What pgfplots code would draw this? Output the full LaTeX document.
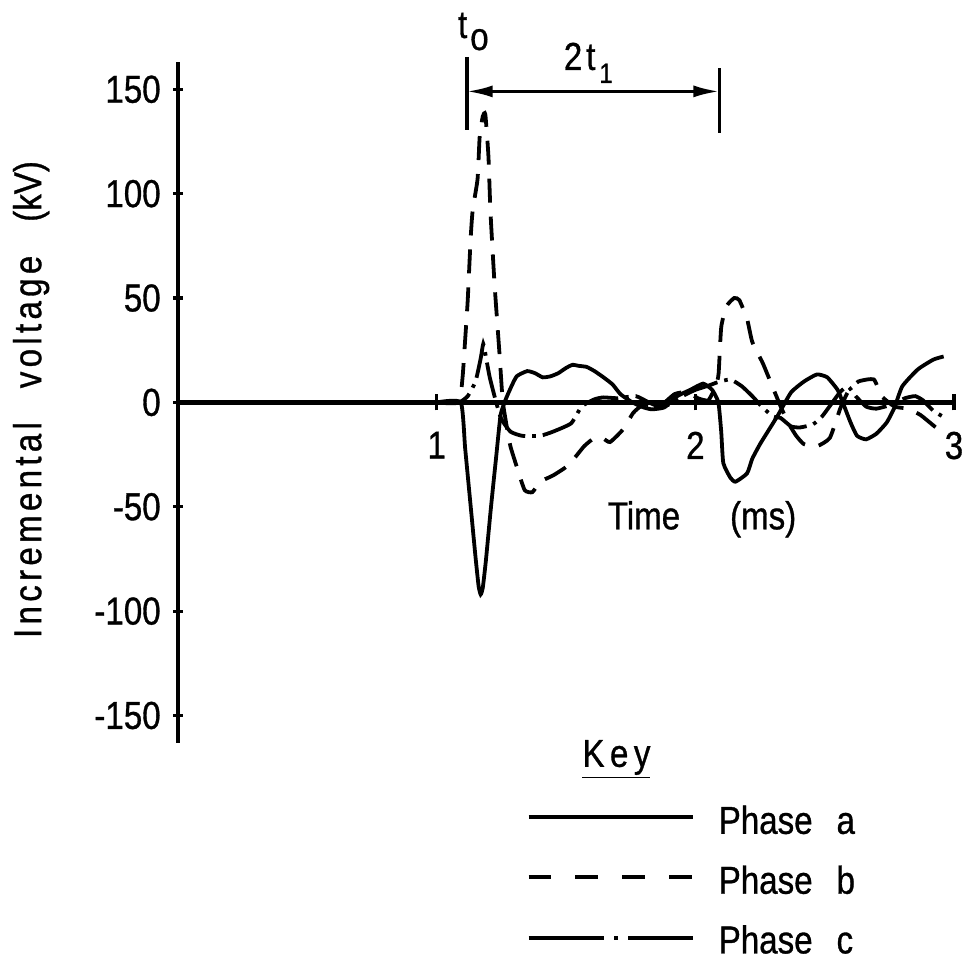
\documentclass[border=0pt]{standalone}
\usepackage{fontspec}
\setmainfont{Liberation Sans}[FakeStretch=0.85,FakeBold=0.8]
\usepackage{pgfplots}
\pgfplotsset{compat=1.18}
\usetikzlibrary{arrows.meta}
\begin{document}
\fontsize{19.5}{23}\selectfont
\begin{tikzpicture}
\begin{axis}[
 x=129.5pt, y=1.045pt,
 xmin=0, xmax=3.0, ymin=-163, ymax=163,
 enlargelimits=false,
 axis x line=middle, axis y line=left,
 axis line style={line width=2.2pt,-},
 hide obscured x ticks=false, hide obscured y ticks=false,
 xtick={1,2,3}, xticklabels={1,2,3},
 ytick={-150,-100,-50,0,50,100,150},
 yticklabels={-150,-100,-50,0,50,100,150},
 minor tick num=0,
 tick align=center,
 major tick length=5pt,
 xtick style={line width=1.6pt,black,/pgfplots/major tick length=8pt},
 ytick style={line width=1.6pt,black},
 xticklabel style={inner sep=0pt, anchor=north, yshift=-12pt},
 yticklabel style={inner sep=0pt, anchor=east, xshift=-6pt},
 clip=false,
]
% Phase a (solid)
\addplot[black, line width=1.9pt, smooth, tension=0.3] coordinates {
(1.0,0)(1.093,0)(1.11,-22)(1.13,-48)(1.15,-74)(1.162,-88)(1.17,-92)(1.178,-89)(1.19,-76)(1.21,-50)(1.23,-26)(1.247,-6)(1.267,1.5)(1.29,8)(1.31,12.6)(1.35,15)(1.38,14)(1.41,12)(1.44,12.5)(1.47,14)(1.50,16.5)(1.525,18)(1.55,17.5)(1.58,17)(1.61,15)(1.645,12)(1.68,8.6)(1.71,4)(1.75,0.5)(1.79,-2)(1.83,-3.3)(1.88,-2.4)(1.93,3)(1.98,6)(2.03,9)(2.065,6)(2.089,0)(2.10,-14)(2.108,-29)(2.135,-36)(2.155,-38)(2.20,-34)(2.22,-27)(2.25,-20)(2.28,-14)(2.32,-6)(2.37,4.8)(2.42,10)(2.47,13.4)(2.51,12)(2.55,6)(2.57,0)(2.60,-9.6)(2.625,-16)(2.66,-17.7)(2.70,-15)(2.74,-9.6)(2.77,-2.4)(2.80,7.7)(2.86,15.8)(2.92,20.5)(2.96,22)
};
% Phase b (dashed)
\addplot[black, line width=1.9pt, dash pattern=on 12pt off 7pt, smooth, tension=0.3] coordinates {
(1.0,0)(1.085,0)(1.10,12)(1.11,30)(1.12,49)(1.131,78)(1.139,92)(1.158,107)(1.166,127)(1.178,137)(1.188,138)(1.20,118)(1.208,91)(1.224,56)(1.243,23)(1.255,1)(1.27,-11)(1.285,-21)(1.31,-31)(1.34,-42)(1.37,-43)(1.40,-38)(1.45,-35)(1.51,-30)(1.57,-21)(1.61,-17)(1.64,-17)(1.67,-19)(1.72,-13)(1.76,-5)(1.80,-1)(1.86,-2)(1.92,4)(1.97,5)(2.01,2)(2.05,1)(2.08,8)(2.09,14)(2.10,36)(2.12,46)(2.15,50)(2.17,49)(2.20,40)(2.22,29)(2.26,19)(2.29,10)(2.33,-2)(2.36,-10)(2.39,-16)(2.42,-20)(2.47,-21)(2.52,-17)(2.56,-3)(2.59,5)(2.63,10)(2.69,11)(2.72,3)(2.77,-2)(2.82,-3)(2.87,-6)(2.93,-12)(2.96,-14)
};
% Phase c (long dash dot)
\addplot[black, line width=1.9pt, dash pattern=on 18pt off 3.5pt on 1.8pt off 3.5pt, smooth, tension=0.3] coordinates {
(1.0,0)(1.085,0)(1.12,3)(1.15,10)(1.17,21)(1.18,28)(1.19,22)(1.205,12)(1.23,0)(1.25,-8)(1.285,-14)(1.33,-16)(1.40,-16)(1.45,-14)(1.52,-10)(1.56,-2)(1.61,1.5)(1.645,2.4)(1.70,2)(1.77,3)(1.82,0)(1.86,-2)(1.90,-1)(1.95,3)(2.00,6)(2.05,8)(2.085,9.6)(2.135,11)(2.18,7.7)(2.22,3)(2.26,-2.4)(2.30,-6.7)(2.33,-7.5)(2.37,-11.5)(2.405,-12)(2.455,-10.5)(2.49,-6.7)(2.53,0)(2.56,5)(2.59,7.7)(2.62,3)(2.66,-2)(2.70,-3)(2.76,-1)(2.81,2)(2.85,3)(2.88,1)(2.92,-4)(2.96,-7)
};
% frame of the picture
\path (axis cs:-0.6834,192.8) rectangle (axis cs:3.058,-269.4);
% axis labels
\node[rotate=90, anchor=center] at (axis cs:-0.568,1.4)
 {{\addfontfeature{LetterSpace=11}Incremental}\hspace{17pt}{\addfontfeature{LetterSpace=11}voltage}\hspace{17pt}(kV)};
\node[anchor=base west, inner sep=0pt] at (axis cs:1.66,-60.8) {Time\hspace{25pt}(ms)};
% t0 and 2t1 annotation
\draw[line width=1.8pt] (axis cs:1.116,165.5) -- (axis cs:1.116,130.6);
\draw[line width=1.8pt] (axis cs:2.093,160) -- (axis cs:2.093,129);
\draw[line width=1.6pt, {Latex[length=13pt,width=6pt]}-{Latex[length=13pt,width=6pt]}] (axis cs:1.116,149) -- (axis cs:2.093,149);
\node[anchor=base west, inner sep=0pt] at (axis cs:1.081,174.6) {t\kern1.5pt\raisebox{-6pt}{o}};
\node[anchor=base west, inner sep=0pt] at (axis cs:1.49,159.3) {2\kern2pt t\kern2pt\raisebox{-6.5pt}{\fontsize{14}{14}\selectfont 1}};
% key
\node[anchor=base, inner sep=0pt] at (axis cs:1.695,-174.6) {$\underline{\hbox{\addfontfeature{LetterSpace=14}Key}}$};
\draw[line width=1.9pt] (axis cs:1.355,-198.6) -- (axis cs:1.992,-198.6);
\node[anchor=base west, inner sep=0pt] at (axis cs:2.089,-206.7) {Phase\hspace{12pt}a};
\draw[line width=1.9pt, dash pattern=on 11.5pt off 12pt] (axis cs:1.355,-227.5) -- (axis cs:1.992,-227.5);
\node[anchor=base west, inner sep=0pt] at (axis cs:2.089,-235.4) {Phase\hspace{12pt}b};
\draw[line width=1.9pt, dash pattern=on 38pt off 5pt on 2pt off 5pt] (axis cs:1.355,-256.5) -- (axis cs:1.992,-256.5);
\node[anchor=base west, inner sep=0pt] at (axis cs:2.089,-264) {Phase\hspace{12pt}c};
\end{axis}
\end{tikzpicture}
\end{document}
